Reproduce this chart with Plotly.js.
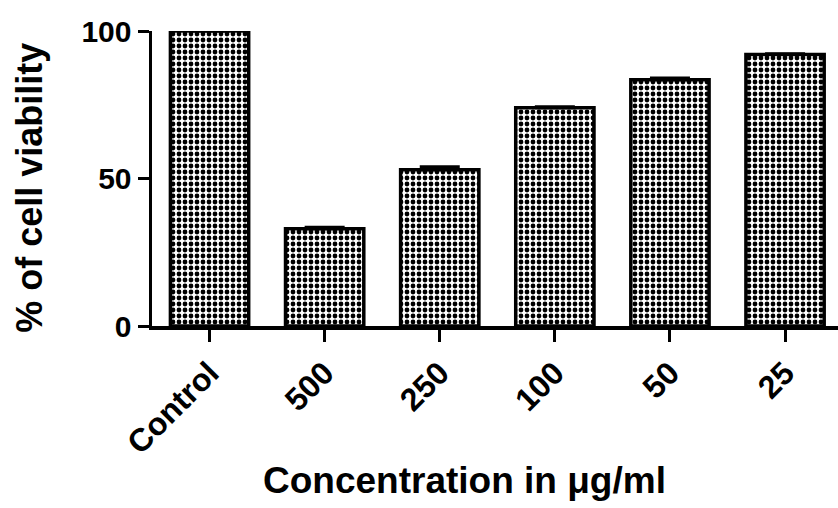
<!DOCTYPE html>
<html>
<head>
<meta charset="utf-8">
<script src="https://cdn.plot.ly/plotly-3.0.1.min.js"></script>
<style>html,body{margin:0;padding:0;background:#fff;}#chart{width:838px;height:508px;}</style>
</head>
<body>
<div id="chart"></div>
<script>
const categories = ["Control", "500", "250", "100", "50", "25"];
const viability = [100, 33, 53, 74, 83.5, 92];
const errPlus = [0, 0.5, 1, 0.3, 0.6, 0.3];
const yTicks = [0, 50, 100];
const xTitle = "Concentration in μg/ml";
const yTitle = "% of cell viability";

const trace = {
  type: "bar",
  x: categories,
  y: viability,
  width: 0.68,
  cliponaxis: false,
  marker: {
    color: "#ffffff",
    line: {color: "#000000", width: 3.5},
    pattern: {shape: ".", fgcolor: "#000000", bgcolor: "#ffffff", size: 6, solidity: 0.5}
  },
  error_y: {type: "data", symmetric: false, array: errPlus, arrayminus: errPlus.map(() => 0),
            color: "#000000", thickness: 3, width: 20}
};

const fam = "Liberation Sans, Arial, sans-serif";

const layout = {
  width: 838, height: 508,
  margin: {l: 152, r: 0, t: 31, b: 182},
  paper_bgcolor: "#ffffff", plot_bgcolor: "#ffffff",
  showlegend: false,
  xaxis: {
    type: "category",
    range: [-0.5, 5.46],
    showline: true, linecolor: "#000", linewidth: 3.5,
    ticks: "outside", ticklen: 12, tickwidth: 3, tickcolor: "#000",
    tickangle: -45,
    tickfont: {family: fam, size: 32, color: "#000", weight: "bold"},
    showgrid: false, zeroline: false, automargin: false
  },
  yaxis: {
    range: [0, 100],
    tickvals: yTicks, ticktext: yTicks.map(String),
    showline: true, linecolor: "#000", linewidth: 3.5,
    ticks: "outside", ticklen: 11, tickwidth: 3, tickcolor: "#000",
    tickfont: {family: fam, size: 30, color: "#000", weight: "bold"},
    showgrid: false, zeroline: false, automargin: false
  },
  annotations: [
    {text: "<b>" + xTitle + "</b>", xref: "paper", yref: "paper", x: 0.456, y: -0.525,
     xanchor: "center", yanchor: "middle", showarrow: false,
     font: {family: fam, size: 37, color: "#000"}},
    {text: "<b>" + yTitle + "</b>", xref: "paper", yref: "paper", x: -0.178, y: 0.468,
     xanchor: "center", yanchor: "middle", showarrow: false, textangle: -90,
     font: {family: fam, size: 36, color: "#000"}}
  ]
};

Plotly.newPlot("chart", [trace], layout, {displayModeBar: false, staticPlot: true});
</script>
</body>
</html>
